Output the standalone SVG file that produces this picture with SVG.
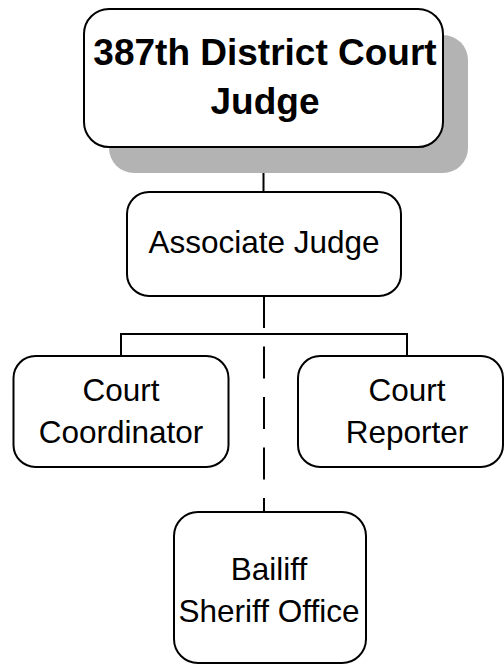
<svg xmlns="http://www.w3.org/2000/svg" width="504" height="665" viewBox="0 0 504 665">
  <style>
    .box { fill: #ffffff; stroke: #000000; stroke-width: 2; }
    .shadow { fill: #b3b3b3; }
    .lbl { font-family: "Liberation Sans", Arial, sans-serif; font-size: 31.5px; fill: #000000; text-anchor: middle; }
    .title { font-family: "Liberation Sans", Arial, sans-serif; font-size: 37px; font-weight: bold; fill: #000000; text-anchor: middle; }
    .wire { fill: none; stroke: #000000; stroke-width: 2; }
    .dash { fill: none; stroke: #000000; stroke-width: 2; stroke-dasharray: 32 18.5; }
  </style>
  <rect width="504" height="665" fill="#ffffff"/>

  <g id="connectors">
    <line class="wire" x1="263.5" y1="147" x2="263.5" y2="192"/>
    <polyline class="wire" points="121,356 121,334 407,334 407,356"/>
    <line class="dash" x1="264" y1="296" x2="264" y2="512"/>
  </g>

  <g id="district-judge">
    <rect class="shadow" x="109" y="35" width="359" height="138" rx="25"/>
    <rect class="box" x="84" y="9" width="359" height="138" rx="25"/>
    <text class="title" x="265" y="65">387th District Court</text>
    <text class="title" x="265" y="114">Judge</text>
  </g>

  <g id="associate-judge">
    <rect class="box" x="127" y="192" width="274" height="104" rx="22"/>
    <text class="lbl" x="264" y="253">Associate Judge</text>
  </g>

  <g id="court-coordinator">
    <rect class="box" x="13.5" y="356" width="215" height="111" rx="22"/>
    <text class="lbl" x="121" y="401">Court</text>
    <text class="lbl" x="121" y="443">Coordinator</text>
  </g>

  <g id="court-reporter">
    <rect class="box" x="298" y="356" width="205" height="111" rx="22"/>
    <text class="lbl" x="407" y="401">Court</text>
    <text class="lbl" x="407" y="443">Reporter</text>
  </g>

  <g id="bailiff">
    <rect class="box" x="174" y="512" width="192" height="151" rx="24"/>
    <text class="lbl" x="269" y="580">Bailiff</text>
    <text class="lbl" x="269" y="622">Sheriff Office</text>
  </g>
</svg>
